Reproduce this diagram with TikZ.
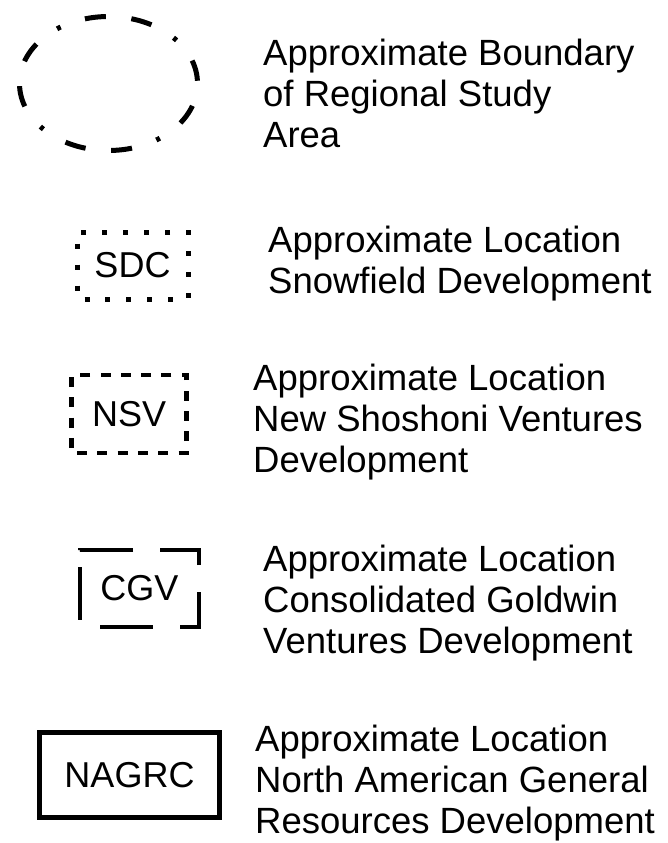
\documentclass[tikz,border=0pt]{standalone}
\usepackage{fontspec}
\setmainfont{Liberation Sans}

\begin{document}
\begin{tikzpicture}[x=1pt,y=-1pt,
  legend/.style={anchor=base west,align=left,inner sep=0pt,font=\fontsize{36.5}{41}\selectfont},
  symbol/.style={draw,inner sep=0pt,font=\fontsize{36}{41}\selectfont}]
\useasboundingbox (0,0) rectangle (667,843);

\draw[line width=5pt,dash pattern=on 21pt off 25.7pt on 4pt off 25.7pt on 21pt off 25.7pt,dash phase=100pt] (108.5,83.5) ellipse [x radius=89,y radius=67];
\node[symbol,line width=5pt,dash pattern=on 5pt off 15.94pt,dash phase=13.4pt,minimum width=111pt,minimum height=67pt] (sdc) at (132.5,265.5) {SDC};
\node[symbol,line width=4.5pt,dash pattern=on 10pt off 10.3pt,dash phase=15pt,minimum width=115pt,minimum height=78pt] (nsv) at (129.2,414.2) {NSV};
\node[symbol,line width=4.5pt,dash pattern=on 53pt off 27pt on 54pt off 27pt on 54pt off 27pt on 53pt off 17pt on 53pt off 27pt,dash phase=372pt,minimum width=119pt,minimum height=77pt] (cgv) at (139.5,588.5) {CGV};
\node[symbol,line width=5pt,minimum width=180pt,minimum height=85pt] (nagrc) at (129.5,775) {NAGRC};

% base anchor sits on the last line
\node[legend] (area) at (263,147) {Approximate Boundary\\of Regional Study\\Area};
\node[legend] (sdctext) at (268,293) {Approximate Location\\Snowfield Development};
\node[legend] (nsvtext) at (253,472) {Approximate Location\\New Shoshoni Ventures\\Development};
\node[legend] (cgvtext) at (263,653) {Approximate Location\\Consolidated Goldwin\\Ventures Development};
\node[legend] (nagrctext) at (255,833) {Approximate Location\\North American General\\Resources Development};
\end{tikzpicture}
\end{document}
